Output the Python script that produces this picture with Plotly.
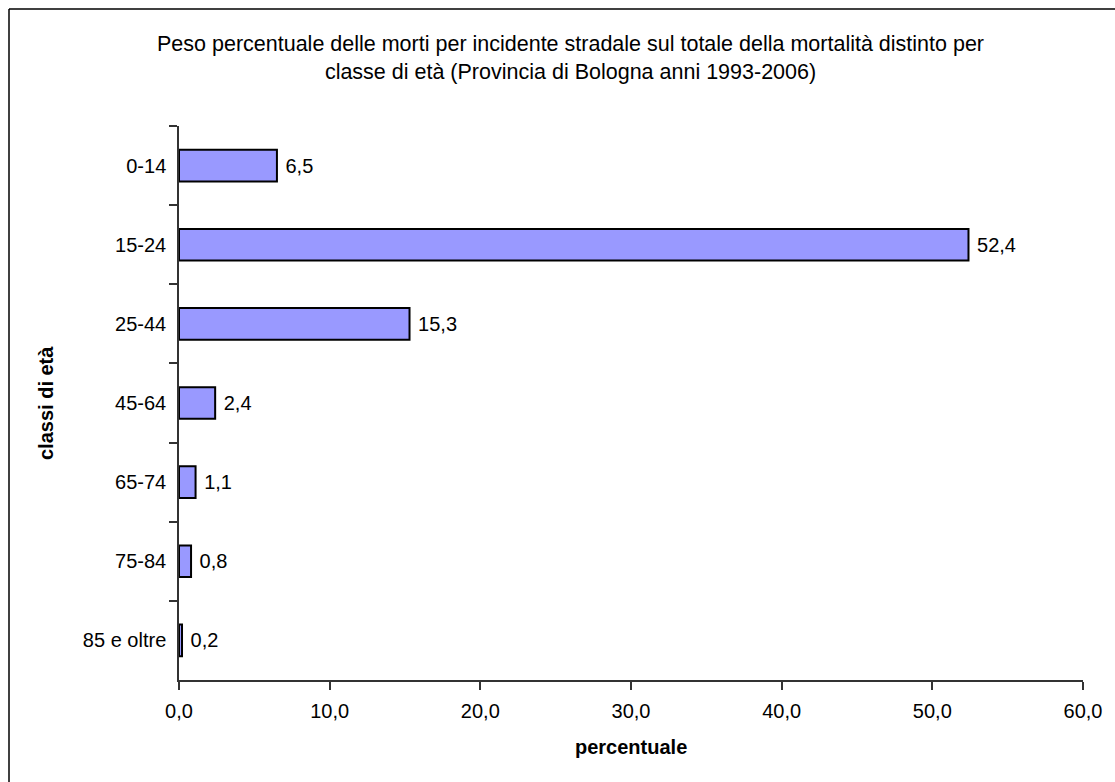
import plotly.graph_objects as go

categories = ["0-14", "15-24", "25-44", "45-64", "65-74", "75-84", "85 e oltre"]
values = [6.5, 52.4, 15.3, 2.4, 1.1, 0.8, 0.2]
x_ticks = [0, 10, 20, 30, 40, 50, 60]

W, H = 1115, 782
L, R, T, B = 179, 32, 126, 102
pw, ph = W - L - R, H - T - B

def px2x(p):
    return (p - L) / pw

def py2y(p):
    return 1 - (p - T) / ph

FONT = "Liberation Sans, Arial, sans-serif"
FS = 20

fig = go.Figure(go.Bar(
    x=values, y=categories, orientation="h",
    marker=dict(color="#9999FF", line=dict(color="black", width=2)),
    text=values, texttemplate=" %{x:.1f}", textposition="outside",
    textfont=dict(family=FONT, size=FS, color="black"),
    cliponaxis=False,
))

border = dict(color="black", width=1.5)
fig.update_layout(
    width=W, height=H,
    margin=dict(l=L, r=R, t=T, b=B),
    paper_bgcolor="white", plot_bgcolor="white",
    separators=", ",
    showlegend=False,
    bargap=0.6,
    font=dict(family=FONT, size=FS, color="black"),
    xaxis=dict(range=[0, 60], tickvals=x_ticks, tickformat=".1f",
               showgrid=False, zeroline=False, showline=True,
               linecolor="#333333", linewidth=1.5, ticks="outside",
               ticklen=8, tickcolor="#333333", tickwidth=1.5,
               ticklabelstandoff=4,
               tickfont=dict(size=FS, color="black")),
    yaxis=dict(categoryorder="array", categoryarray=categories,
               autorange="reversed", showgrid=False, zeroline=False,
               showline=True, linecolor="#333333", linewidth=1.5,
               ticks="outside", tickson="boundaries", ticklen=8,
               tickcolor="#333333", tickwidth=1.5,
               ticklabelstandoff=7,
               tickfont=dict(size=FS, color="black")),
    shapes=[
        dict(type="line", xref="paper", yref="paper",
             x0=px2x(9), y0=py2y(9), x1=px2x(1300), y1=py2y(9), line=border),
        dict(type="line", xref="paper", yref="paper",
             x0=px2x(9), y0=py2y(9), x1=px2x(9), y1=py2y(1000), line=border),
    ],
    annotations=[
        dict(text="Peso percentuale delle morti per incidente stradale sul totale della mortalità distinto per<br>classe di età (Provincia di Bologna anni 1993-2006)",
             xref="paper", yref="paper", x=px2x(570), y=py2y(58),
             xanchor="center", yanchor="middle", showarrow=False,
             font=dict(family=FONT, size=21.5, color="black")),
        dict(text="<b>percentuale</b>", xref="paper", yref="paper",
             x=px2x(631), y=py2y(747), xanchor="center", yanchor="middle",
             showarrow=False, font=dict(family=FONT, size=FS, color="black")),
        dict(text="<b>classi di età</b>", xref="paper", yref="paper",
             x=px2x(46), y=py2y(403), xanchor="center", yanchor="middle",
             textangle=-90, showarrow=False,
             font=dict(family=FONT, size=FS, color="black")),
    ],
)

fig.write_html(
    "out.html",
    config={"displayModeBar": False},
    post_script=("document.body.style.margin='0';"
                 "document.body.style.overflow='hidden';"
                 "document.documentElement.style.overflow='hidden';"),
)
